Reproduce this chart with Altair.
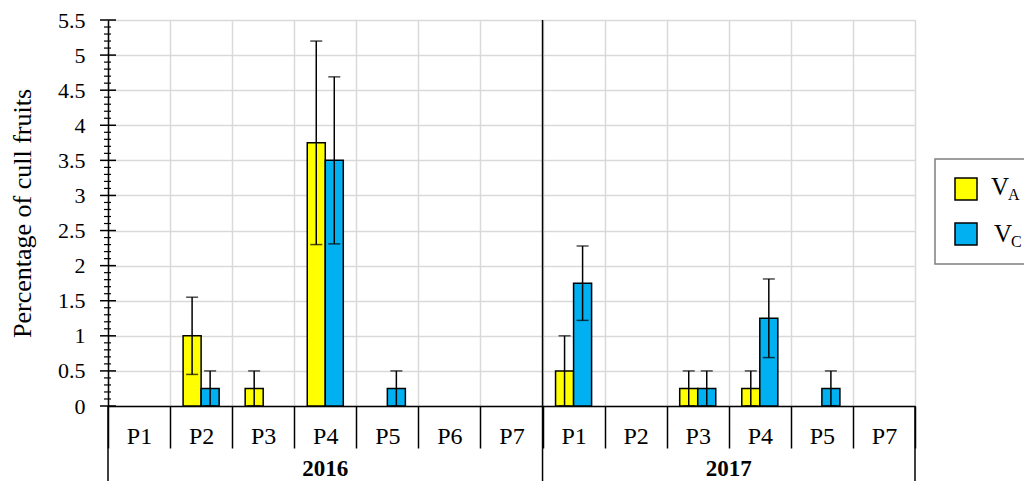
import altair as alt
import pandas as pd
import numpy as np

years = ["2016"] * 7 + ["2017"] * 6
plots = ["P1", "P2", "P3", "P4", "P5", "P6", "P7", "P1", "P2", "P3", "P4", "P5", "P7"]
series = ["VA", "VC"]
va_mean = [0, 1.0, 0.25, 3.75, 0, 0, 0, 0.5, 0, 0.25, 0.25, 0, 0]
va_err = [0, 0.55, 0.25, 1.45, 0, 0, 0, 0.5, 0, 0.25, 0.25, 0, 0]
vc_mean = [0, 0.25, 0, 3.5, 0.25, 0, 0, 1.75, 0, 0.25, 1.25, 0.25, 0]
vc_err = [0, 0.25, 0, 1.19, 0.25, 0, 0, 0.53, 0, 0.25, 0.56, 0.25, 0]
colors = ["#FFFF00", "#00B0F0"]
y_ticks = [0, 0.5, 1, 1.5, 2, 2.5, 3, 3.5, 4, 4.5, 5, 5.5]

FONT = "Liberation Serif"
cats = [f"{y}-{p}" for y, p in zip(years, plots)]

rows = []
for s, means, errs in zip(series, [va_mean, vc_mean], [va_err, vc_err]):
    for c, m, e in zip(cats, means, errs):
        rows.append({"cat": c, "series": s, "mean": m, "lo": m - e, "hi": m + e})
df = pd.DataFrame(rows)

xscale = alt.Scale(domain=cats, paddingInner=0, paddingOuter=0)
yscale = alt.Scale(domain=[0, 5.5], nice=False, zero=True)
offscale = alt.Scale(domain=series, paddingInner=0, paddingOuter=0.7222)
cscale = alt.Scale(domain=series, range=colors)

x_axis = alt.Axis(
    title=None,
    labelExpr="split(datum.value, '-')[1]",
    labelAngle=0,
    tickBand="extent",
    tickSize=42,
    tickColor="black",
    tickWidth=1.5,
    labelPadding=-12,
    labelBaseline="middle",
    labelFontSize=24,
    labelColor="black",
    labelFont=FONT,
    grid=True,
    gridColor="#d9d9d9",
    gridWidth=1.5,
    domainColor="black",
    domainWidth=1.5,
)
y_axis = alt.Axis(
    values=y_ticks,
    format="~g",
    title="Percentage of cull fruits",
    titleFont=FONT,
    titleFontSize=26,
    titleFontWeight="normal",
    titleColor="black",
    titleX=-86,
    titleY=193,
    titleAngle=-90,
    titleAlign="center",
    titleBaseline="middle",
    labelFontSize=22,
    labelFont=FONT,
    labelColor="black",
    labelPadding=23,
    labelOverlap=False,
    ticks=False,
    tickSize=0,
    domainColor="black",
    domainWidth=1.5,
    grid=True,
    gridColor="#d9d9d9",
    gridWidth=1.5,
)


def X(bp=None):
    if bp is None:
        return alt.X("cat:N", sort=cats, scale=xscale, axis=x_axis)
    return alt.X("cat:N", sort=cats, scale=xscale, axis=x_axis, bandPosition=bp)


def Y(field):
    return alt.Y(field, scale=yscale, axis=y_axis)


XO = alt.XOffset("series:N", scale=offscale)

base = alt.Chart(df).transform_filter("datum.mean > 0")

bars = base.mark_bar(stroke="black", strokeWidth=1.5).encode(
    x=X(), xOffset=XO, y=Y("mean:Q"),
    color=alt.Color("series:N", scale=cscale, legend=None),
)
err = base.mark_rule(color="black", strokeWidth=1.5).encode(
    x=X(), xOffset=XO, y=Y("lo:Q"), y2="hi:Q"
)
cap_hi = base.mark_tick(color="black", thickness=1.5, size=12).encode(
    x=X(), xOffset=XO, y=Y("hi:Q")
)
cap_lo = base.mark_tick(color="black", thickness=1.5, size=12).encode(
    x=X(), xOffset=XO, y=Y("lo:Q")
)

# y axis ticks crossing the axis line (major + minor)
tv = np.round(np.arange(0, 5.55, 0.1), 1)
tick_df = pd.DataFrame({"t": tv, "major": [abs(v * 2 - round(v * 2)) < 1e-6 for v in tv]})
major_ticks = alt.Chart(tick_df).transform_filter("datum.major").mark_rule(color="black", strokeWidth=1.5).encode(
    y=Y("t:Q"), x=alt.value(-8), x2=alt.value(8)
)
minor_ticks = alt.Chart(tick_df).transform_filter("!datum.major").mark_rule(color="black", strokeWidth=1.2).encode(
    y=Y("t:Q"), x=alt.value(-4), x2=alt.value(3)
)


def boundary(cat, bp, y0, y1):
    return alt.Chart(pd.DataFrame({"cat": [cat]})).mark_rule(color="black", strokeWidth=1.5).encode(
        x=X(bp), y=alt.value(y0), y2=alt.value(y1)
    )


b_left = boundary(cats[0], 0, 386, 475)
b_mid = boundary(cats[7], 0, 0, 475)
b_right = boundary(cats[-1], 1, 386, 475)


def year_label(cat, bp, text):
    return alt.Chart(pd.DataFrame({"cat": [cat], "year": [text]})).mark_text(
        font=FONT, fontSize=23, fontWeight="bold", color="black", baseline="middle"
    ).encode(x=X(bp), y=alt.value(449), text="year:N")


y2016 = year_label("2016-P4", 0.5, "2016")
y2017 = year_label("2017-P4", 0, "2017")

# legend
one = pd.DataFrame({"k": [0]})
legend_layers = [
    alt.Chart(one).mark_rect(fill="white", stroke="#7f7f7f", strokeWidth=1.5).encode(
        x=alt.value(827), x2=alt.value(950), y=alt.value(139), y2=alt.value(244)
    )
]
for i, s in enumerate(series):
    legend_layers.append(
        alt.Chart(one).mark_rect(fill=colors[i], stroke="black", strokeWidth=1.5).encode(
            x=alt.value(847), x2=alt.value(869), y=alt.value(158 + 45 * i), y2=alt.value(180 + 45 * i)
        )
    )
    legend_layers.append(
        alt.Chart(one).mark_text(font=FONT, fontSize=25, color="black", align="left", baseline="alphabetic", text=s[0]).encode(
            x=alt.value(883 + 3 * i), y=alt.value(175 + 47 * i)
        )
    )
    legend_layers.append(
        alt.Chart(one).mark_text(font=FONT, fontSize=16, color="black", align="left", baseline="alphabetic", text=s[1]).encode(
            x=alt.value(900 + 3 * i), y=alt.value(180 + 47 * i)
        )
    )

chart = alt.layer(
    bars, err, cap_hi, cap_lo, major_ticks, minor_ticks, b_left, b_mid, b_right, y2016, y2017, *legend_layers
).properties(
    width=807,
    height=386,
    padding={"left": 100, "top": 12, "right": 109, "bottom": 75},
    autosize="none",
).configure_view(stroke=None).configure(font=FONT)

chart.save("out.html", embed_options={"renderer": "svg", "actions": False})
